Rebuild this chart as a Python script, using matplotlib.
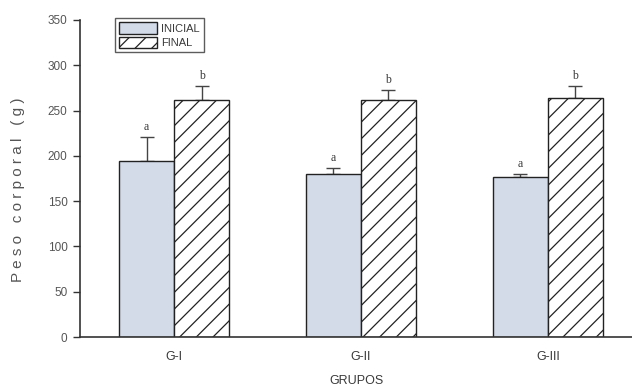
import matplotlib
matplotlib.use("Agg")
import matplotlib.pyplot as plt
import numpy as np

plt.rcParams["hatch.linewidth"] = 0.9

groups = ["G-I", "G-II", "G-III"]
inicial = [194, 180, 177]
inicial_err = [27, 7, 3]
final = [262, 262, 264]
final_err = [15, 11, 13]
letters_inicial = ["a", "a", "a"]
letters_final = ["b", "b", "b"]
yticks = [0, 50, 100, 150, 200, 250, 300, 350]

font = "Liberation Sans"

fig = plt.figure(figsize=(6.32, 3.91), dpi=100)
ax = fig.add_axes([80/632, 1-337/391, (632-80)/632, (337-20)/391])

x = np.arange(len(groups))
w = 0.294
txtc = "#3a3a3a"
b1 = ax.bar(x - w/2, inicial, w, color="#d3dbe9", edgecolor="#222222", linewidth=1.0, zorder=2)
b2 = ax.bar(x + w/2, final, w, color="white", edgecolor="#222222", linewidth=1.0, hatch="//", zorder=2)
ax.errorbar(x - w/2, inicial, yerr=[np.zeros(3), inicial_err], fmt="none", ecolor="#444444",
            elinewidth=1.0, capsize=5, capthick=1.0, zorder=1)
ax.errorbar(x + w/2, final, yerr=[np.zeros(3), final_err], fmt="none", ecolor="#444444",
            elinewidth=1.0, capsize=5, capthick=1.0, zorder=1)
for i in range(3):
    ax.text(x[i] - w/2, inicial[i] + inicial_err[i] + 4, letters_inicial[i], ha="center", va="bottom",
            fontsize=8.5, family="Liberation Serif", color=txtc)
    ax.text(x[i] + w/2, final[i] + final_err[i] + 4, letters_final[i], ha="center", va="bottom",
            fontsize=8.5, family="Liberation Serif", color=txtc)

ax.set_xlim(-0.503, 2.45)
ax.set_ylim(0, 350)
ax.set_yticks(yticks)
ax.set_xticks(x)
ax.set_xticklabels(groups, family=font, fontsize=9, color=txtc)
for lab in ax.get_yticklabels():
    lab.set_family(font); lab.set_fontsize(8.5); lab.set_color("#555555")
ax.spines["top"].set_visible(False)
ax.spines["right"].set_visible(False)
ax.spines["left"].set_color("#333333")
ax.spines["bottom"].set_color("#333333")
ax.spines["left"].set_linewidth(1.2)
ax.spines["bottom"].set_linewidth(1.2)
ax.tick_params(axis="y", length=5, width=1.0, color="#333333", pad=4)
ax.tick_params(axis="x", length=0, pad=10)

ax.set_xlabel("GRUPOS", family=font, fontsize=9, color=txtc, labelpad=9)
fig.text(18/632, 1-190/391, "P e s o   c o r p o r a l   ( g )", rotation=90, ha="center", va="center",
         fontsize=11, family=font, color="#555555")

leg = ax.legend([b1, b2], ["INICIAL", "FINAL"], loc="upper left", bbox_to_anchor=(35/552, 1.005),
                prop={"family": font, "size": 8}, frameon=True, fancybox=False,
                edgecolor="#333333", handlelength=3.4, handleheight=1.2, labelspacing=0.25,
                borderpad=0.35, handletextpad=0.4, borderaxespad=0)
leg.get_frame().set_linewidth(1.0)
for t in leg.get_texts():
    t.set_color(txtc)

fig.savefig("out.png", dpi=100)
